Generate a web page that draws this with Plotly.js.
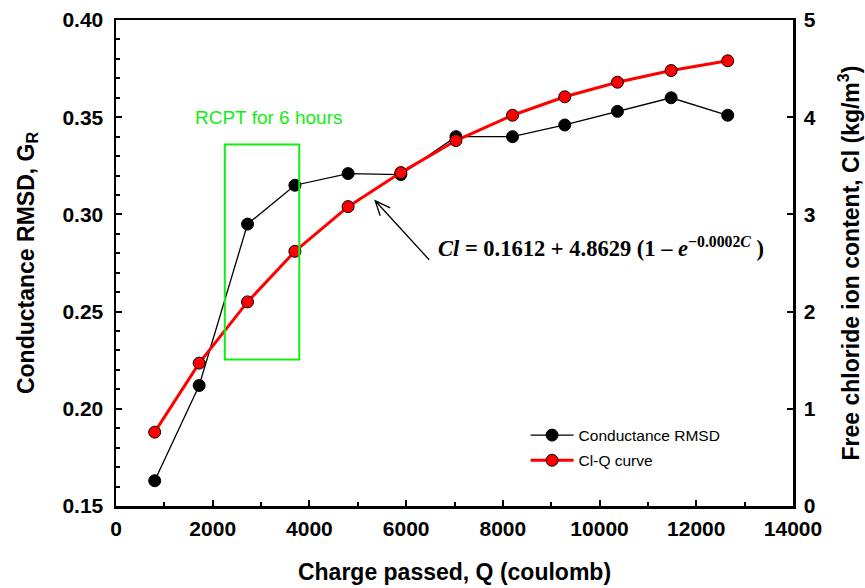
<!DOCTYPE html>
<html>
<head>
<meta charset="utf-8">
<script src="https://cdn.plot.ly/plotly-3.0.1.min.js"></script>
<style>html,body{margin:0;padding:0;background:#fff;}#chart{width:865px;height:588px;}</style>
</head>
<body>
<div id="chart"></div>
<script>
// Charge passed Q (coulomb)
const chargeQ = [800, 1720, 2720, 3700, 4800, 5890, 7030, 8200, 9280, 10370, 11480, 12650];
// Conductance RMSD (left axis)
const rmsd = [0.163, 0.212, 0.295, 0.315, 0.321, 0.3205, 0.340, 0.340, 0.346, 0.353, 0.360, 0.351];
// Free chloride ion content (right axis)
const chloride = [0.76, 1.47, 2.10, 2.62, 3.08, 3.43, 3.76, 4.02, 4.21, 4.36, 4.48, 4.58];
// RCPT window
const rcptQ = [2250, 3790];
const rcptG = [0.2253, 0.3359];

const lime = '#11ee11';
const fam = 'Liberation Sans, Arial, sans-serif';
function tf() { return {family: fam, size: 21, color: '#000', weight: 700}; }
function ttf() { return {family: fam, size: 23, color: '#000', weight: 700}; }

const traces = [
  {x: chargeQ, y: rmsd, name: 'Conductance RMSD', mode: 'lines+markers', yaxis: 'y', legendgroup: 'a',
   line: {color: '#000', width: 1.3}, marker: {color: '#000', size: 12, line: {color: '#000', width: 1}}},
  {x: chargeQ, y: chloride, name: 'Cl-Q curve', mode: 'lines+markers', yaxis: 'y2', legendgroup: 'b',
   line: {color: '#ff0000', width: 3}, marker: {color: '#ff0000', size: 12, line: {color: '#000', width: 1}}}
];

const layout = {
  width: 865, height: 588,
  margin: {l: 116, r: 72, t: 20, b: 82},
  paper_bgcolor: '#fff', plot_bgcolor: '#fff',
  font: {family: fam, color: '#000'},
  showlegend: true,
  legend: {x: 0.605, y: 0.18, xanchor: 'left', yanchor: 'top', bgcolor: 'rgba(0,0,0,0)',
           font: {family: fam, size: 15.5, color: '#000'}, itemwidth: 43,
           traceorder: 'grouped', tracegroupgap: 2},
  xaxis: {range: [0, 14000], dtick: 2000, tick0: 0, showgrid: false, zeroline: false,
          tickformat: 'd', ticklabelstandoff: 2,
          showline: true, linewidth: 2.5, linecolor: '#000', mirror: true,
          ticks: 'inside', ticklen: 6, tickwidth: 2, tickcolor: '#000',
          minor: {dtick: 1000, ticks: 'inside', ticklen: 4, tickwidth: 2, tickcolor: '#000'},
          tickfont: tf(),
          title: {text: '<b>Charge passed, Q (coulomb)</b>', font: ttf(), standoff: 25}},
  yaxis: {range: [0.15, 0.40], dtick: 0.05, tick0: 0.15, tickformat: '.2f', showgrid: false, zeroline: false,
          ticklabelstandoff: 6,
          showline: true, linewidth: 2.5, linecolor: '#000', mirror: true,
          ticks: 'inside', ticklen: 6, tickwidth: 2, tickcolor: '#000',
          minor: {dtick: 0.01, ticks: 'inside', ticklen: 4, tickwidth: 2, tickcolor: '#000'},
          tickfont: tf(),
          title: {text: '<b>Conductance RMSD, G<sub>R</sub></b>', font: ttf(), standoff: 22}},
  yaxis2: {range: [0, 5], dtick: 1, overlaying: 'y', side: 'right', showgrid: false, zeroline: false,
           ticklabelstandoff: 4,
           showline: true, linewidth: 2.5, linecolor: '#000',
           ticks: 'inside', ticklen: 6, tickwidth: 2, tickcolor: '#000',
           tickfont: tf(),
           title: {text: '<b>Free chloride ion content, Cl (kg/m<sup>3</sup>)</b>', font: ttf(), standoff: 28}},
  shapes: [
    {type: 'rect', xref: 'x', yref: 'y', x0: rcptQ[0], x1: rcptQ[1], y0: rcptG[0], y1: rcptG[1],
     line: {color: lime, width: 2}, fillcolor: 'rgba(0,0,0,0)'},
    {type: 'path', xref: 'x', yref: 'y', xsizemode: 'pixel', ysizemode: 'pixel', xanchor: 5360, yanchor: 0.307,
     path: 'M54,-59 L0,0 M5,-15 L0,0 L15,-7', line: {color: '#000', width: 1.3}}
  ],
  annotations: [
    {xref: 'x', yref: 'y', x: 3160, y: 0.350, text: 'RCPT for 6 hours', showarrow: false,
     font: {family: fam, size: 19, color: lime}},
    {xref: 'x', yref: 'y', x: 10020, y: 0.283, showarrow: false, xanchor: 'center',
     text: '<b><i>Cl</i> = 0.1612 + 4.8629 (1 – <i>e</i><sup>−0.0002<i>C</i></sup> )</b>',
     font: {family: 'Liberation Serif, Times New Roman, serif', size: 22.5, color: '#000'}}
  ]
};

Plotly.newPlot('chart', traces, layout, {displayModeBar: false, staticPlot: true});
</script>
</body>
</html>
